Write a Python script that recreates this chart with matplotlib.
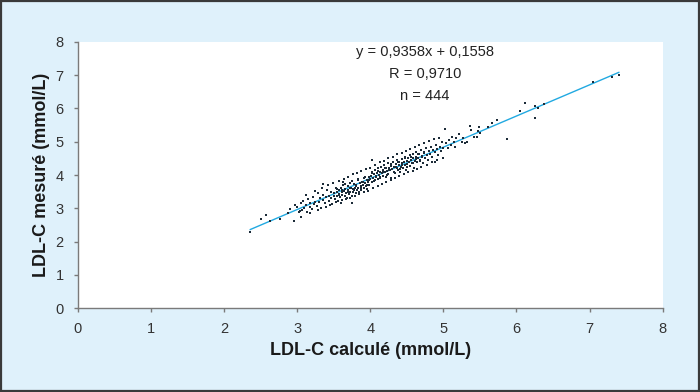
import matplotlib
matplotlib.use("Agg")
import matplotlib.pyplot as plt
from matplotlib.patches import Rectangle

plt.rcParams['font.family'] = ['Liberation Sans', 'DejaVu Sans']

x_calc = [
    2.36, 2.51, 2.58, 2.63, 2.76, 2.87, 2.90, 2.96, 2.97, 3.04, 3.06,
    3.00, 3.02, 3.05, 3.07, 3.08, 3.10, 3.12, 3.13, 3.15, 3.17, 3.18, 3.20,
    3.22, 3.23, 3.25, 3.27, 3.28, 3.30, 3.32, 3.33, 3.35, 3.36, 3.38, 3.40,
    3.41, 3.43, 3.44, 3.46, 3.47, 3.48, 3.50,
    3.51, 3.52, 3.53, 3.54, 3.55, 3.56, 3.57, 3.58, 3.59, 3.60, 3.60, 3.61,
    3.62, 3.63, 3.64, 3.65, 3.66, 3.67, 3.68, 3.69, 3.70, 3.71, 3.72, 3.73,
    3.74, 3.75, 3.76, 3.77, 3.78, 3.79, 3.80, 3.81, 3.82, 3.83, 3.84, 3.85,
    3.86, 3.87, 3.88, 3.89, 3.90, 3.91, 3.92, 3.93, 3.94, 3.95, 3.96, 3.97,
    3.98, 3.99, 4.00, 3.35, 3.63, 3.75,
    4.01, 4.02, 4.03, 4.03, 4.04, 4.05, 4.06, 4.07, 4.08, 4.09, 4.10, 4.11,
    4.12, 4.13, 4.14, 4.15, 4.16, 4.17, 4.18, 4.19, 4.20, 4.21, 4.22, 4.23,
    4.24, 4.25, 4.26, 4.27, 4.28, 4.29, 4.30, 4.31, 4.32, 4.33, 4.34, 4.35,
    4.36, 4.37, 4.38, 4.39, 4.40, 4.41, 4.42, 4.43, 4.44, 4.45, 4.46, 4.47,
    4.48, 4.49, 4.50,
    4.51, 4.52, 4.53, 4.54, 4.55, 4.56, 4.57, 4.58, 4.59, 4.60, 4.61, 4.62,
    4.63, 4.64, 4.66, 4.67, 4.68, 4.70, 4.71, 4.72, 4.74, 4.75, 4.76, 4.78,
    4.79, 4.80, 4.82, 4.83, 4.85, 4.86, 4.88, 4.89, 4.90, 4.92, 4.93, 4.95,
    4.97, 4.98, 5.00,
    5.02, 5.04, 5.06, 5.08, 5.10, 5.12, 5.14, 5.16, 5.18, 5.22, 5.25, 5.27,
    5.30, 5.33, 5.37, 5.38, 5.42, 5.46, 5.48, 5.49, 5.50, 5.61, 5.66, 5.74,
    5.87,
    6.055, 6.12, 6.25, 6.29, 6.38, 6.26, 7.05, 7.31, 7.40,
    3.12, 3.18, 3.24, 3.29, 3.34, 3.39, 3.42, 3.45, 3.49, 3.53, 3.57, 3.61,
    3.64, 3.67, 3.70, 3.73, 3.76, 3.79, 3.82, 3.85, 3.88, 3.91, 3.94, 3.97,
    4.00, 4.04, 4.07, 4.10, 4.13, 4.16, 4.19, 4.22, 4.25, 4.28, 4.31, 4.34,
    4.37, 4.40, 4.43, 4.46, 4.49, 4.52, 4.55, 4.58, 4.61, 4.64, 4.67, 4.70,
    4.73, 4.77, 4.81, 4.84, 4.87, 4.91, 4.94, 4.99,
    3.55, 3.58, 3.62, 3.66, 3.69, 3.72, 3.75, 3.78, 3.81, 3.84, 3.87, 3.90,
    3.93, 3.96, 3.99, 4.02, 4.05, 4.08, 4.11, 4.14, 4.17, 4.20, 4.23, 4.26,
    4.29, 4.32, 4.35, 4.38, 4.41, 4.44, 4.47, 4.50, 4.53, 4.56, 4.59, 4.62,
    4.65, 4.68, 4.71, 4.74,
]
y_mes = [
    2.28, 2.68, 2.81, 2.63, 2.69, 2.85, 2.99, 2.63, 3.11, 2.93, 2.73,
    3.05, 2.88, 3.15, 2.95, 3.22, 3.02, 3.10, 2.90, 3.28, 3.05, 3.15, 2.98,
    3.35, 3.12, 3.20, 3.08, 3.45, 3.18, 3.30, 3.02, 3.25, 3.40, 3.15, 3.35,
    3.55, 3.22, 3.38, 3.30, 3.48, 3.12, 3.36,
    3.45, 3.28, 3.60, 3.38, 3.50, 3.22, 3.42, 3.55, 3.34, 3.62, 3.15, 3.48,
    3.40, 3.70, 3.52, 3.36, 3.58, 3.45, 3.30, 3.66, 3.55, 3.42, 3.75, 3.50,
    3.62, 3.38, 3.58, 3.48, 3.72, 3.60, 3.45, 3.68, 3.56, 3.85, 3.62, 3.50,
    3.75, 3.66, 3.55, 3.80, 3.70, 3.60, 3.92, 3.75, 3.66, 3.85, 3.58, 3.78,
    3.95, 3.70, 3.88, 3.72, 3.80, 3.15,
    3.98, 3.80, 4.45, 4.10, 3.92, 4.02, 3.85, 4.15, 3.95, 4.05, 3.88, 4.20,
    4.00, 4.10, 3.92, 4.25, 4.05, 3.98, 4.15, 4.30, 4.08, 3.95, 4.20, 4.12,
    4.35, 4.02, 4.22, 4.15, 3.90, 4.28, 4.18, 4.40, 4.10, 4.25, 4.05, 4.32,
    4.20, 4.45, 4.15, 4.30, 4.38, 4.10, 4.25, 4.48, 4.35, 4.20, 4.40, 4.30,
    4.55, 4.15, 4.42,
    4.32, 4.50, 4.40, 4.60, 4.28, 4.45, 4.35, 4.62, 4.50, 4.20, 4.42, 4.55,
    4.70, 4.38, 4.52, 4.62, 4.45, 4.75, 4.55, 4.35, 4.66, 4.50, 4.80, 4.60,
    4.45, 4.72, 4.62, 4.85, 4.55, 4.75, 4.40, 4.68, 4.90, 4.78, 4.60, 4.85,
    4.72, 5.00, 4.80,
    5.37, 4.95, 4.80, 5.05, 4.90, 5.15, 4.98, 4.85, 5.10, 5.23, 5.00, 5.10,
    4.95, 5.00, 5.48, 5.35, 5.15, 5.15, 5.32, 5.45, 5.26, 5.45, 5.56, 5.65,
    5.08,
    5.93, 6.17, 6.07, 6.02, 6.14, 5.71, 6.80, 6.95, 7.01,
    3.40, 2.85, 3.52, 2.95, 3.62, 3.05, 3.70, 3.10, 3.75, 3.18, 3.82, 3.25,
    3.88, 3.28, 3.95, 3.32, 4.02, 3.38, 4.05, 3.42, 4.12, 3.48, 4.18, 3.52,
    4.22, 3.62, 4.30, 3.68, 4.38, 3.72, 4.42, 3.80, 4.50, 3.85, 4.55, 3.92,
    4.62, 3.98, 4.65, 4.02, 4.72, 4.08, 4.78, 4.12, 4.85, 4.18, 4.90, 4.25,
    4.95, 4.30, 5.02, 4.38, 5.08, 4.45, 5.12, 4.50,
    3.58, 3.40, 3.55, 3.72, 3.48, 3.62, 3.82, 3.55, 3.70, 3.88, 3.62, 3.80,
    3.95, 3.70, 3.85, 4.05, 3.82, 3.98, 4.12, 3.95, 4.08, 4.22, 4.00, 4.15,
    4.32, 4.08, 4.25, 4.40, 4.18, 4.30, 4.50, 4.25, 4.38, 4.55, 4.35, 4.48,
    4.62, 4.42, 4.58, 4.70,
]
slope = 0.9358
intercept = 0.1558
fit_x = [2.36, 7.40]
annot = ["y = 0,9358x + 0,1558", "R = 0,9710", "n = 444"]

fig = plt.figure(figsize=(7.0, 3.92), dpi=100)
fig.patch.set_facecolor('#dff1fb')
fig.patches.append(Rectangle((0.002, 0.003), 0.996, 0.994, transform=fig.transFigure,
                             fill=False, edgecolor='#3a3a3a', linewidth=1.6))

ax = fig.add_axes([0.111, 0.2135, 0.8357, 0.68])
ax.set_facecolor('white')
ax.scatter(x_calc, y_mes, s=4, marker='s', color='#1c2b38', linewidths=0, zorder=3)
ax.plot(fit_x, [slope * v + intercept for v in fit_x], color='#21a9e1', lw=1.0, zorder=2)

ax.set_xlim(0, 8)
ax.set_ylim(0, 8)
ax.set_xticks(range(0, 9))
ax.set_yticks(range(0, 9))
for s in ['top', 'right']:
    ax.spines[s].set_visible(False)
for s in ['left', 'bottom']:
    ax.spines[s].set_color('#7a7a7a')
    ax.spines[s].set_linewidth(1.0)
ax.tick_params(direction='out', length=3, width=1, color='#7a7a7a',
               labelsize=10.5, labelcolor='#333333', pad=7)

ax.set_xlabel('LDL-C calculé (mmol/L)', fontsize=13, fontweight='bold',
              color='#1a1a1a', labelpad=4)
ax.set_ylabel('LDL-C mesuré (mmol/L)', fontsize=13, fontweight='bold',
              color='#1a1a1a', labelpad=4)

for i, t in enumerate(annot):
    ax.text(4.75, 7.7 - i * 0.66, t, ha='center', va='center', fontsize=10.5,
            color='#222222')

fig.savefig('out.png', dpi=100, facecolor=fig.get_facecolor())
